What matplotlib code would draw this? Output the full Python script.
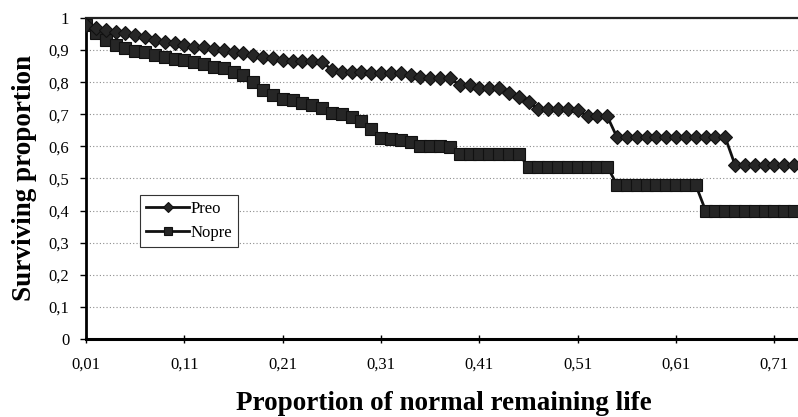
import matplotlib

matplotlib.use("Agg")
import matplotlib.pyplot as plt

plt.rcParams.update({"font.family": "Liberation Serif", "font.size": 12})

# event grid (proportion of normal remaining life), step 0.01
x_vals = [round(0.01 + 0.01 * i, 2) for i in range(73)]

preo = [
    0.978, 0.968, 0.963, 0.957, 0.952, 0.947, 0.942, 0.931, 0.924, 0.921,
    0.916, 0.911, 0.908, 0.902, 0.900, 0.895, 0.890, 0.885, 0.879, 0.874,
    0.869, 0.867, 0.866, 0.866, 0.864, 0.838, 0.833, 0.833, 0.833, 0.828,
    0.828, 0.828, 0.828, 0.822, 0.817, 0.812, 0.812, 0.812, 0.791, 0.791,
    0.781, 0.781, 0.781, 0.765, 0.755, 0.739, 0.716, 0.716, 0.716, 0.716,
    0.713, 0.694, 0.694, 0.694, 0.628, 0.628, 0.628, 0.628, 0.628, 0.628,
    0.628, 0.628, 0.628, 0.628, 0.628, 0.628, 0.542, 0.542, 0.542, 0.542,
    0.542, 0.542, 0.542,
]

nopre = [
    0.978, 0.952, 0.930, 0.916, 0.905, 0.898, 0.893, 0.885, 0.877, 0.872,
    0.868, 0.862, 0.856, 0.848, 0.843, 0.833, 0.822, 0.800, 0.775, 0.760,
    0.748, 0.745, 0.735, 0.729, 0.720, 0.705, 0.700, 0.690, 0.680, 0.655,
    0.625, 0.622, 0.620, 0.615, 0.600, 0.600, 0.600, 0.598, 0.575, 0.575,
    0.575, 0.575, 0.575, 0.575, 0.575, 0.537, 0.537, 0.537, 0.537, 0.537,
    0.537, 0.537, 0.537, 0.537, 0.480, 0.480, 0.480, 0.480, 0.480, 0.480,
    0.480, 0.480, 0.480, 0.400, 0.400, 0.400, 0.400, 0.400, 0.400, 0.400,
    0.400, 0.400, 0.400,
]

xticks = [0.01, 0.11, 0.21, 0.31, 0.41, 0.51, 0.61, 0.71]
xtick_labels = ["0,01", "0,11", "0,21", "0,31", "0,41", "0,51", "0,61", "0,71"]
yticks = [0, 0.1, 0.2, 0.3, 0.4, 0.5, 0.6, 0.7, 0.8, 0.9, 1.0]
ytick_labels = ["0", "0,1", "0,2", "0,3", "0,4", "0,5", "0,6", "0,7", "0,8", "0,9", "1"]

fig = plt.figure(figsize=(7.98, 4.17), dpi=100)
ax = fig.add_axes([0.1078, 0.187, 0.8922, 0.770])

ax.plot(x_vals, nopre, color="#111111", lw=2.0, marker="s", ms=8.4,
        mfc="#262626", mec="#111111", mew=0.8, label="Nopre", zorder=3)
ax.plot(x_vals, preo, color="#111111", lw=2.0, marker="D", ms=7.2,
        mfc="#262626", mec="#111111", mew=0.8, label="Preo", zorder=4)

ax.set_xlim(0.01, 0.734)
ax.set_ylim(0, 1.0)
ax.set_xticks(xticks)
ax.set_xticklabels(xtick_labels)
ax.set_yticks(yticks)
ax.set_yticklabels(ytick_labels)

ax.yaxis.grid(True, color="#8c8c8c", linestyle=(0, (1, 2)), linewidth=0.8)
ax.set_axisbelow(True)

ax.spines["right"].set_visible(False)
ax.spines["left"].set_linewidth(2.0)
ax.spines["bottom"].set_linewidth(2.2)
ax.spines["top"].set_linewidth(1.6)
ax.spines["top"].set_color("#222222")
ax.tick_params(axis="y", direction="out", length=4, width=1, pad=8)
ax.tick_params(axis="x", direction="inout", length=6, width=1, pad=10)

handles, labels = ax.get_legend_handles_labels()
leg = ax.legend(handles[::-1], labels[::-1], loc="upper left",
                bbox_to_anchor=(0.076, 0.449), borderaxespad=0,
                fancybox=False, edgecolor="#333333", framealpha=1,
                handlelength=2.6, handletextpad=0.1, labelspacing=0.5,
                borderpad=0.35, markerscale=0.75)
leg.get_frame().set_linewidth(0.8)

fig.text(25 / 798, 1 - 178 / 417, "Surviving proportion", rotation=90,
         ha="center", va="center", fontsize=19.5, fontweight="bold")
fig.text(444 / 798, 14 / 417, "Proportion of normal remaining life",
         ha="center", va="center", fontsize=19.5, fontweight="bold")

fig.savefig("out.png", dpi=100)
